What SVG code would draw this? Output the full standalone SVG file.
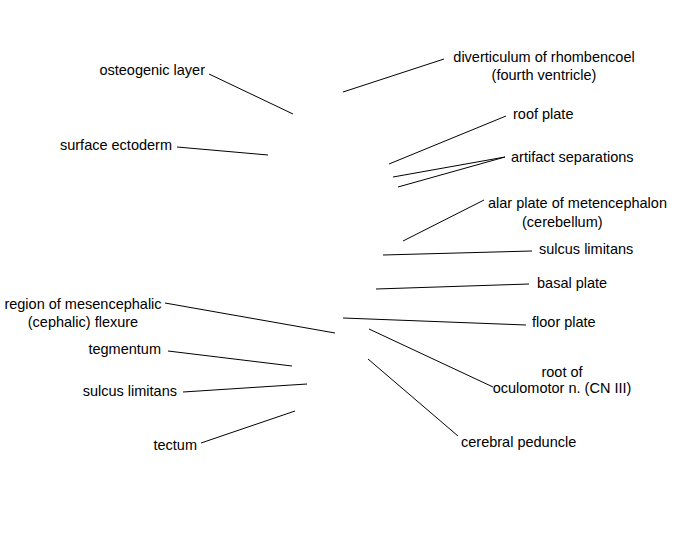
<svg xmlns="http://www.w3.org/2000/svg" width="675" height="550" viewBox="0 0 675 550">
<style>
text{font-family:"Liberation Sans",Arial,sans-serif;font-size:14.5px;fill:#000}
.e{text-anchor:end}.m{text-anchor:middle}
#connectors line{stroke:#000;stroke-width:1;fill:none}
</style>
<rect width="675" height="550" fill="#fff"/>
<g id="connectors">
<line x1="209" y1="74" x2="293" y2="114"/>
<line x1="177" y1="147" x2="268" y2="155"/>
<line x1="444" y1="59" x2="343" y2="92"/>
<line x1="506" y1="116" x2="389" y2="164"/>
<line x1="505" y1="157" x2="393" y2="177"/>
<line x1="505" y1="157" x2="398" y2="187"/>
<line x1="484" y1="200" x2="403" y2="241"/>
<line x1="532" y1="251" x2="383" y2="255"/>
<line x1="529" y1="284" x2="376" y2="289"/>
<line x1="526" y1="325" x2="343" y2="318"/>
<line x1="493" y1="387" x2="369" y2="329"/>
<line x1="458" y1="436" x2="368" y2="359"/>
<line x1="165" y1="303" x2="335" y2="333"/>
<line x1="168" y1="351" x2="292" y2="366"/>
<line x1="183" y1="392" x2="307" y2="384"/>
<line x1="201" y1="443" x2="295" y2="411"/>
</g>
<g id="osteogenic-layer"><text class="e" x="205" y="75">osteogenic layer</text></g>
<g id="surface-ectoderm"><text class="e" x="172" y="150">surface ectoderm</text></g>
<g id="diverticulum"><text class="m" x="544" y="62">diverticulum of rhombencoel</text><text class="m" x="544" y="80">(fourth ventricle)</text></g>
<g id="roof-plate"><text x="513" y="119">roof plate</text></g>
<g id="artifact-separations"><text x="511" y="162">artifact separations</text></g>
<g id="alar-plate"><text x="488" y="208">alar plate of metencephalon</text><text x="522" y="227">(cerebellum)</text></g>
<g id="sulcus-limitans-r"><text x="539" y="254">sulcus limitans</text></g>
<g id="basal-plate"><text x="537" y="288">basal plate</text></g>
<g id="floor-plate"><text x="532" y="327">floor plate</text></g>
<g id="root-oculomotor"><text class="m" x="562" y="377">root of</text><text class="m" x="562" y="393">oculomotor n. (CN III)</text></g>
<g id="cerebral-peduncle"><text x="461" y="447">cerebral peduncle</text></g>
<g id="mesencephalic-flexure"><text class="m" x="83" y="309">region of mesencephalic</text><text class="m" x="83" y="327">(cephalic) flexure</text></g>
<g id="tegmentum"><text class="e" x="161" y="354">tegmentum</text></g>
<g id="sulcus-limitans-l"><text class="e" x="177" y="396">sulcus limitans</text></g>
<g id="tectum"><text class="e" x="197" y="450">tectum</text></g>
</svg>
